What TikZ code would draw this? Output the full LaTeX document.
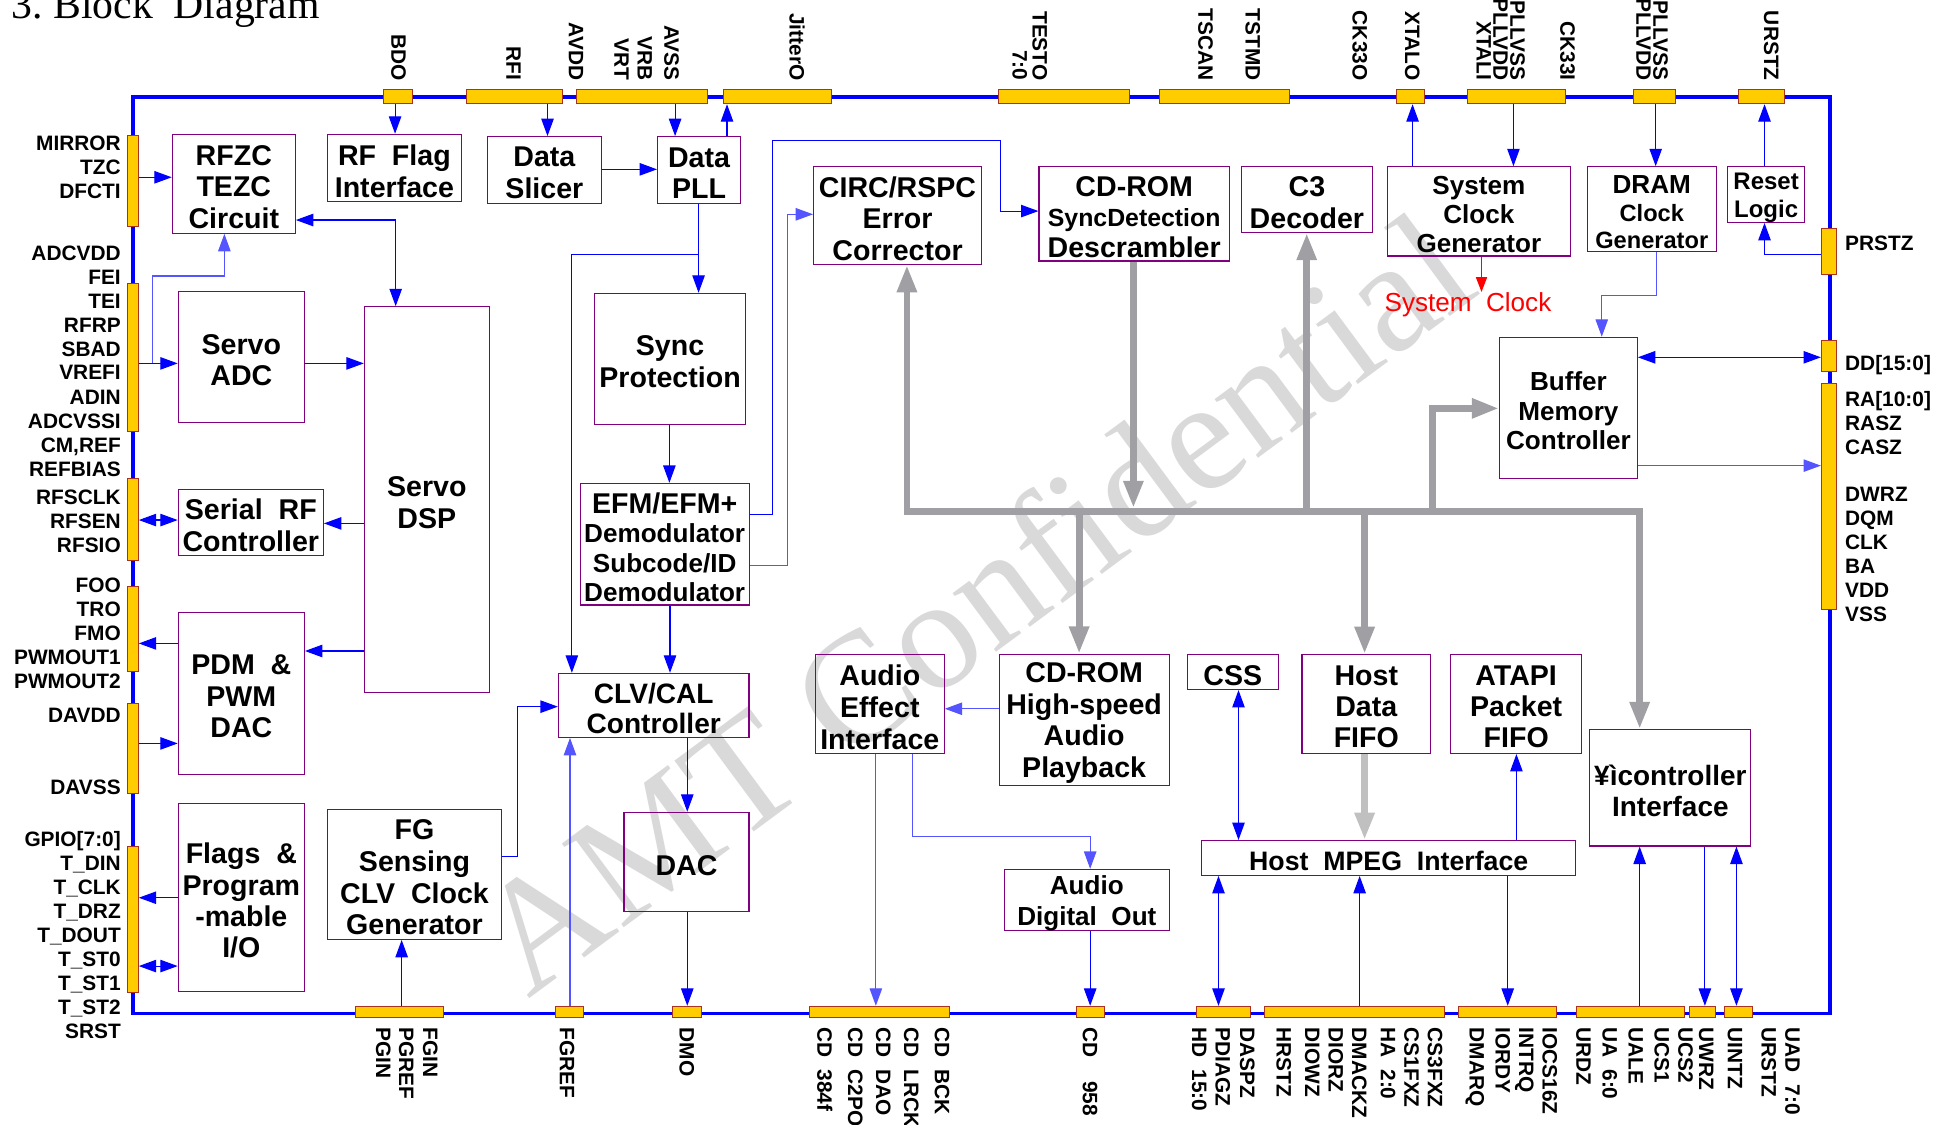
\documentclass[tikz,border=0pt]{standalone}
\usepackage{fontspec}
\setmainfont{Liberation Sans}
\newfontfamily\seriffont{Liberation Serif}
\usetikzlibrary{arrows.meta}
\definecolor{padf}{RGB}{255,204,0}
\definecolor{padb}{RGB}{170,50,30}
\definecolor{blkc}{RGB}{128,0,128}
\definecolor{wire}{RGB}{0,0,255}
\definecolor{lwire}{RGB}{85,85,255}
\definecolor{busc}{RGB}{160,160,164}
\definecolor{lbus}{RGB}{192,192,192}
\definecolor{wmark}{RGB}{217,217,217}
\newcommand\fs[2]{\fontsize{#1}{#2}\selectfont}
\newcounter{lblc}
\tikzset{
 blkbox/.style={draw=blkc, line width=0.9pt, inner sep=0pt},
 blktext/.style={inner sep=0pt, align=center, font=\fs{23}{25.5}\bfseries},
 pinpad/.style={draw=padb, fill=padf, line width=0.8pt, inner sep=0pt},
 pinl/.style={font=\fs{16.8}{19.3}\bfseries, inner sep=0pt},
 toplbl/.style={pinl, rotate=-90, anchor=base east},
 botlbl/.style={pinl, rotate=-90, anchor=base west},
 leftlbl/.style={pinl, anchor=base east},
 rightlbl/.style={pinl, anchor=base west},
 conn/.style={draw=wire, line width=0.9pt},
 lconn/.style={draw=lwire, line width=0.9pt},
 arr/.style={conn, -{Triangle[length=14pt,width=10pt]}},
 larr/.style={lconn, -{Triangle[length=14pt,width=10pt]}},
 darr/.style={conn, {Triangle[length=14pt,width=10pt]}-{Triangle[length=14pt,width=10pt]}},
 bus/.style={draw=busc, line width=5.5pt},
 busarr/.style={bus, -{Triangle[length=22pt,width=15pt]}},
 frame/.style={draw=wire, line width=2.7pt},
}
\newcommand\mkpad[5]{\node[pinpad, minimum width={#4-#2}, minimum height={#5-#3}] (#1) at ({(#2+#4)/2},{(#3+#5)/2}) {};}
\newcommand\mkblk[7][]{\node[blkbox, minimum width={#5-#3}, minimum height={#6-#4}] (#2) at ({(#3+#5)/2},{(#4+#6)/2}) {};
 \node[blktext, #1] (#2-t) at ([yshift=-2.5pt]#2.center) {#7};}
\newcommand\toplab[2]{\stepcounter{lblc}\node[toplbl] (lbl\thelblc) at ({#1-6},65) {#2};}
\newcommand\botlab[2]{\stepcounter{lblc}\node[botlbl] (lbl\thelblc) at ({#1-6},827) {#2};}
\newcommand\leftlab[2]{\stepcounter{lblc}\node[leftlbl] (lbl\thelblc) at (97.4,{#1+6}) {#2};}
\newcommand\rightlab[2]{\stepcounter{lblc}\node[rightlbl] (lbl\thelblc) at (1485,{#1+6}) {#2};}
\begin{document}
\begin{tikzpicture}[x=1pt,y=-1pt]
\useasboundingbox (0,0) rectangle (1568,905);
% watermark
\node[font=\seriffont\fs{128}{128}, text=wmark, rotate=36.5] (wm) at (783,484) {AMT Confidential};
% title
\node[font=\seriffont\fs{33.6}{36}, anchor=base west, inner sep=0pt] (title) at (9,14.8) {3.\ Block\ \ Diagram};
% frame
\draw[frame] (107,78) rectangle (1473,816);
% left pads
\mkpad{lp1}{102.8}{108.7}{111.3}{182}
\mkpad{lp2}{102.8}{228}{111.3}{347.7}
\mkpad{lp3}{102.8}{385}{111.3}{451}
\mkpad{lp4}{102.8}{472.3}{111.3}{540.7}
\mkpad{lp5}{102.8}{566}{111.3}{639}
\mkpad{lp6}{102.8}{681}{111.3}{798.5}
% top pads
\mkpad{tbdo}{309}{72}{332}{83.5}
\mkpad{trfi}{375.3}{72}{452.8}{83.5}
\mkpad{tavss}{464.4}{72}{569.5}{83.5}
\mkpad{tjit}{582}{72}{669}{83.5}
\mkpad{ttesto}{804}{72}{909}{83.5}
\mkpad{ttscan}{933.5}{72}{1038}{83.5}
\mkpad{txtalo}{1123.7}{72}{1146.6}{83.5}
\mkpad{tpll}{1181.6}{72}{1259.8}{83.5}
\mkpad{tpll2}{1315}{72}{1349}{83.5}
\mkpad{turstz}{1399.7}{72}{1436.7}{83.5}
% bottom pads
\mkpad{bpgin}{286.3}{810}{357}{819}
\mkpad{bfgref}{447.2}{810}{469.8}{819}
\mkpad{bdmo}{541.7}{810}{564.6}{819}
\mkpad{bcd}{651.7}{810}{764.6}{819}
\mkpad{b958}{866.1}{810}{889.1}{819}
\mkpad{bhd}{962.9}{810}{1006.2}{819}
\mkpad{bhrstz}{1017.9}{810}{1162.4}{819}
\mkpad{bdmarq}{1174.1}{810}{1252.7}{819}
\mkpad{burdz}{1268.6}{810}{1355.6}{819}
\mkpad{buwrz}{1360.2}{810}{1381.2}{819}
\mkpad{buintz}{1388.3}{810}{1411}{819}
% right pads
\mkpad{rprstz}{1466.1}{183.8}{1478.3}{220.8}
\mkpad{rdd}{1466.1}{274.2}{1478.3}{299.2}
\mkpad{rra}{1466.1}{308.6}{1478.3}{490.2}
% pin labels
\leftlab{114.9}{MIRROR}\leftlab{134.2}{TZC}\leftlab{153.5}{DFCTI}
\leftlab{203.4}{ADCVDD}\leftlab{222.7}{FEI}\leftlab{242.3}{TEI}\leftlab{261.4}{RFRP}
\leftlab{280.7}{SBAD}\leftlab{299.7}{VREFI}\leftlab{319.3}{ADIN}\leftlab{338.6}{ADCVSSI}
\leftlab{358}{CM,REF}\leftlab{377.3}{REFBIAS}\leftlab{399.8}{RFSCLK}\leftlab{419.1}{RFSEN}
\leftlab{438.5}{RFSIO}\leftlab{470.9}{FOO}\leftlab{490.2}{TRO}\leftlab{509.3}{FMO}
\leftlab{528.6}{PWMOUT1}\leftlab{547.9}{PWMOUT2}\leftlab{575.5}{DAVDD}\leftlab{633.2}{DAVSS}
\leftlab{675.4}{GPIO[7:0]}\leftlab{694.4}{T\_DIN}\leftlab{713.7}{T\_CLK}\leftlab{733}{T\_DRZ}
\leftlab{752.4}{T\_DOUT}\leftlab{771.7}{T\_ST0}\leftlab{791}{T\_ST1}\leftlab{810.3}{T\_ST2}
\leftlab{829.7}{SRST}
\rightlab{195.3}{PRSTZ}\rightlab{292.5}{DD[15:0]}\rightlab{321.4}{RA[10:0]}
\rightlab{340.2}{RASZ}\rightlab{359.5}{CASZ}\rightlab{397.6}{DWRZ}\rightlab{417.2}{DQM}
\rightlab{436}{CLK}\rightlab{455.6}{BA}\rightlab{474.9}{VDD}\rightlab{494.2}{VSS}
\toplab{321}{BDO}\toplab{413.5}{RFI}\toplab{463.9}{AVDD}\toplab{540.8}{AVSS}
\toplab{519.2}{VRB}\toplab{500.6}{VRT}\toplab{641.5}{JitterO}\toplab{837.2}{TESTO}
\toplab{821}{7:0}\toplab{970.5}{TSCAN}\toplab{1008.6}{TSTMD}\toplab{1094.8}{CK33O}
\toplab{1137}{XTALO}\toplab{1221.7}{PLLVSS}\toplab{1208}{PLLVDD}\toplab{1194.6}{XTALI}
\toplab{1262}{CK33I}\toplab{1336.8}{PLLVSS}\toplab{1323.1}{PLLVDD}\toplab{1426}{URSTZ}
\botlab{346.5}{FGIN}\botlab{327.2}{PGREF}\botlab{308.8}{PGIN}\botlab{456.6}{FGREF}
\botlab{553.1}{DMO}\botlab{758.4}{CD\ \ BCK}\botlab{733.8}{CD\ \ LRCK}\botlab{711.3}{CD\ \ DAO}
\botlab{688.7}{CD\ \ C2PO}\botlab{664}{CD\ \ 384f}\botlab{877.6}{CD\ \ \ \ 958}
\botlab{1004.1}{DASPZ}\botlab{984.4}{PDIAGZ}\botlab{965.5}{HD\ \ 15:0}
\botlab{1155.3}{CS3FXZ}\botlab{1136.4}{CS1FXZ}\botlab{1117.4}{HA\ \ 2:0}\botlab{1094.3}{DMACKZ}
\botlab{1075.4}{DIORZ}\botlab{1056.6}{DIOWZ}\botlab{1033.5}{HRSTZ}
\botlab{1247.6}{IOCS16Z}\botlab{1228.8}{INTRQ}\botlab{1209.9}{IORDY}\botlab{1188.9}{DMARQ}
\botlab{1396.7}{UINTZ}\botlab{1373.6}{UWRZ}\botlab{1356.9}{UCS2}\botlab{1337.9}{UCS1}
\botlab{1317}{UALE}\botlab{1295.9}{UA\ \ 6:0}\botlab{1274.9}{URDZ}\botlab{1424}{URSTZ}
\botlab{1443}{UAD\ \ 7:0}
% blocks
\mkblk{rfzc}{138.7}{108.1}{237.7}{187.8}{RFZC\\TEZC\\Circuit}
\mkblk{rfflag}{263.5}{108.1}{371.4}{162.1}{RF\ \ Flag\\Interface}
\mkblk{slicer}{392.3}{110}{484.1}{163.7}{Data\\Slicer}
\mkblk{pll}{529.3}{110}{596}{163.7}{Data\\PLL}
\mkblk{circ}{654.9}{134.2}{790}{212.8}{CIRC/RSPC\\Error\\Corrector}
\mkblk[font=\fs{23}{24.5}\bfseries]{cdrom}{836.3}{134.2}{989.6}{210.1}{CD-ROM\\{\fs{20}{24.5}SyncDetection}\\Descrambler}
\mkblk{c3}{999.2}{134.2}{1104.7}{187}{C3\\Decoder}
\mkblk[font=\fs{21}{23.5}\bfseries]{scg}{1116.7}{134.2}{1264}{206.1}{System\\Clock\\Generator}
\mkblk[font=\fs{19}{22}\bfseries]{dram}{1277.6}{134.2}{1381.5}{202.6}{{\fs{21}{22}DRAM}\\Clock\\Generator}
\mkblk[font=\fs{19.3}{22}\bfseries]{reset}{1390.8}{134.2}{1452.4}{179}{Reset\\Logic}
\mkblk{servoadc}{143.5}{234.8}{245}{340}{Servo\\ADC}
\mkblk{servodsp}{293.3}{246.9}{393.9}{557.3}{Servo\\DSP}
\mkblk{sync}{478.4}{236.1}{600.3}{341.6}{Sync\\Protection}
\mkblk[font=\fs{21}{23.5}\bfseries]{efm}{466.9}{389.1}{603.1}{487}{{\fs{23}{23.5}EFM/EFM+}\\Demodulator\\Subcode/ID\\Demodulator}
\mkblk{serialrf}{143.5}{393.9}{260.3}{447}{Serial\ \ RF\\Controller}
\mkblk[font=\fs{21}{23.6}\bfseries]{buffer}{1207.1}{271.5}{1317.9}{385}{Buffer\\Memory\\Controller}
\mkblk{pdm}{143.5}{492.9}{245}{623.3}{PDM\ \ \&\\PWM\\DAC}
\mkblk[font=\fs{22.6}{24.7}\bfseries]{clv}{449.5}{542}{602.9}{593.5}{CLV/CAL\\Controller}
\mkblk[font=\fs{23}{25.8}\bfseries]{ae}{656.4}{526.7}{760}{606.4}{Audio\\Effect\\Interface}
\mkblk[font=\fs{23}{25.7}\bfseries]{cdhs}{804.2}{526.7}{941.1}{632.2}{CD-ROM\\High-speed\\Audio\\Playback}
\mkblk{css}{955.7}{526.9}{1028.9}{555}{CSS}
\mkblk[font=\fs{23}{25}\bfseries]{hdf}{1048}{526.9}{1151.5}{606.5}{Host\\Data\\FIFO}
\mkblk[font=\fs{23}{25}\bfseries]{atapi}{1167.8}{526.9}{1273}{606.5}{ATAPI\\Packet\\FIFO}
\mkblk[font=\fs{22.5}{24.9}\bfseries]{uc}{1279.7}{587.4}{1409.3}{681}{¥ìcontroller\\Interface}
\mkblk[font=\fs{23}{25}\bfseries]{flags}{143.5}{646.6}{245}{798}{Flags\ \ \&\\Program\\-mable\\I/O}
\mkblk{fg}{263.5}{651.5}{403.8}{756.1}{FG\\Sensing\\CLV\ \ Clock\\Generator}
\mkblk{dac}{502.3}{653.9}{602.9}{733.9}{DAC}
\mkblk[font=\fs{21.5}{24}\bfseries]{hmi}{967.2}{676.6}{1268.4}{704.6}{Host\ \ MPEG\ \ Interface}
\mkblk[font=\fs{21}{25}\bfseries]{ado}{808.5}{699.8}{941.1}{748.9}{Audio\\Digital\ \ Out}
\node[font=\fs{21}{24}, text=red, inner sep=0pt] (sysclk) at (1181.6,245) {System\ \ Clock};
% gray bus
\draw[bus, line join=miter, {Triangle[length=22pt,width=15pt]}-{Triangle[length=22pt,width=15pt]}] (730,0 |- circ.south) -- (730,411.9) -- (1319.8,411.9) -- (1319.8,0 |- uc.north);
\draw[busarr] (912.3,0 |- cdrom.south) -- (912.3,409);
\draw[busarr] (1051.8,414) -- (1051.8,0 |- c3.south);
\draw[busarr] (868.6,411.9) -- (868.6,0 |- cdhs.north);
\draw[busarr] (1098.4,411.9) -- (1098.4,0 |- hdf.north);
\draw[busarr, line join=miter] (1153.1,414) -- (1153.1,328.7) -- (buffer.west |- 0,328.7);
\draw[draw=lbus, line width=5.5pt, -{Triangle[length=22pt,width=15pt]}] (1098.4,0 |- hdf.south) -- (1098.4,0 |- hmi.north);
% top connectors
\draw[arr] (318,0 |- tbdo.south) -- (318,0 |- rfflag.north);
\draw[arr] (440.7,0 |- trfi.south) -- (440.7,0 |- slicer.north);
\draw[arr] (543.4,0 |- tavss.south) -- (543.4,0 |- pll.north);
\draw[arr] (585.2,0 |- pll.north) -- (585.2,0 |- tjit.south);
\draw[arr] (slicer.east |- 0,136.3) -- (pll.west |- 0,136.3);
\draw[arr] (562.3,0 |- pll.south) -- (562.3,0 |- sync.north);
\coordinate (j1) at (562.3,204.7);
\draw[arr] (j1) -- (460.3,204.7) -- (460.3,0 |- clv.north);
\draw[arr] (538.8,0 |- sync.south) -- (538.8,0 |- efm.north);
\draw[arr] (539.3,0 |- efm.south) -- (539.3,0 |- clv.north);
\draw[arr] (efm.east |- 0,414) -- (622.1,414) -- (622.1,113.2) -- (805.3,113.2) -- (805.3,169.9) -- (cdrom.west |- 0,169.9);
\draw[larr] (efm.east |- 0,455.3) -- (634.2,455.3) -- (634.2,172.5) -- (circ.west |- 0,172.5);
% left side
\draw[arr] (lp1.east |- 0,142.7) -- (rfzc.west |- 0,142.7);
\draw[arr] (lp2.east |- 0,292.5) -- (servoadc.west |- 0,292.5);
\coordinate (j2) at (122.6,292.5);
\draw[larr] (j2) -- (122.6,222.2) -- (180.6,222.2) -- (180.6,0 |- rfzc.south);
\draw[darr] (rfzc.east |- 0,177.1) -- (318.5,177.1) -- (318.5,0 |- servodsp.north);
\draw[arr] (servoadc.east |- 0,292.5) -- (servodsp.west |- 0,292.5);
\draw[arr] (servodsp.west |- 0,421.3) -- (serialrf.east |- 0,421.3);
\draw[darr] (lp3.east |- 0,418.6) -- (serialrf.west |- 0,418.6);
\draw[arr] (servodsp.west |- 0,524) -- (pdm.east |- 0,524);
\draw[arr] (pdm.west |- 0,517.9) -- (lp4.east |- 0,517.9);
\draw[arr] (lp5.east |- 0,598.4) -- (pdm.west |- 0,598.4);
\draw[arr] (flags.west |- 0,722.6) -- (lp6.east |- 0,722.6);
\draw[darr] (lp6.east |- 0,777.6) -- (flags.west |- 0,777.6);
\draw[arr] (323.3,0 |- bpgin.north) -- (323.3,0 |- fg.south);
\draw[arr] (fg.east |- 0,689.6) -- (416.4,689.6) -- (416.4,568.8) -- (clv.west |- 0,568.8);
\draw[larr] (458.8,0 |- bfgref.north) -- (458.8,0 |- clv.south);
\draw[arr] (553.2,0 |- clv.south) -- (553.2,0 |- dac.north);
\draw[arr] (553.2,0 |- dac.south) -- (553.2,0 |- bdmo.north);
% middle bottom
\draw[larr] (cdhs.west |- 0,570.5) -- (ae.east |- 0,570.5);
\draw[larr] (705,0 |- ae.south) -- (705,0 |- bcd.north);
\draw[larr] (734.8,0 |- ae.south) -- (734.8,673.5) -- (877.5,673.5) -- (877.5,0 |- ado.north);
\draw[arr] (877.5,0 |- ado.south) -- (877.5,0 |- b958.north);
\draw[darr] (996.9,0 |- css.south) -- (996.9,0 |- hmi.north);
\draw[arr] (1220.6,0 |- hmi.north) -- (1220.6,0 |- atapi.south);
\draw[darr] (980.8,0 |- bhd.north) -- (980.8,0 |- hmi.south);
\draw[arr] (1094.4,0 |- bhrstz.north) -- (1094.4,0 |- hmi.south);
\draw[arr] (1213.6,0 |- hmi.south) -- (1213.6,0 |- bdmarq.north);
\draw[arr] (1319.8,0 |- burdz.north) -- (1319.8,0 |- uc.south);
\draw[arr] (1372.3,0 |- uc.south) -- (1372.3,0 |- buwrz.north);
\draw[darr] (1397.7,0 |- buintz.north) -- (1397.7,0 |- uc.south);
% right top
\draw[arr] (1137,0 |- scg.north) -- (1137,0 |- txtalo.south);
\draw[arr] (1218.2,0 |- tpll.south) -- (1218.2,0 |- scg.north);
\draw[arr] (1332.7,0 |- tpll2.south) -- (1332.7,0 |- dram.north);
\draw[arr] (1420.3,0 |- reset.north) -- (1420.3,0 |- turstz.south);
\draw[arr] (rprstz.west |- 0,204.7) -- (1420.3,204.7) -- (1420.3,0 |- reset.south);
\draw[larr] (1333.1,0 |- dram.south) -- (1333.1,237.5) -- (1289.3,237.5) -- (1289.3,0 |- buffer.north);
\draw[darr] (buffer.east |- 0,287.6) -- (rdd.west |- 0,287.6);
\draw[larr] (buffer.east |- 0,374.8) -- (rra.west |- 0,374.8);
\draw[draw=red, line width=0.9pt, -{Triangle[length=12pt,width=9pt]}] (1192.5,0 |- scg.south) -- (1192.5,0 |- sysclk.north);
\end{tikzpicture}
\end{document}
